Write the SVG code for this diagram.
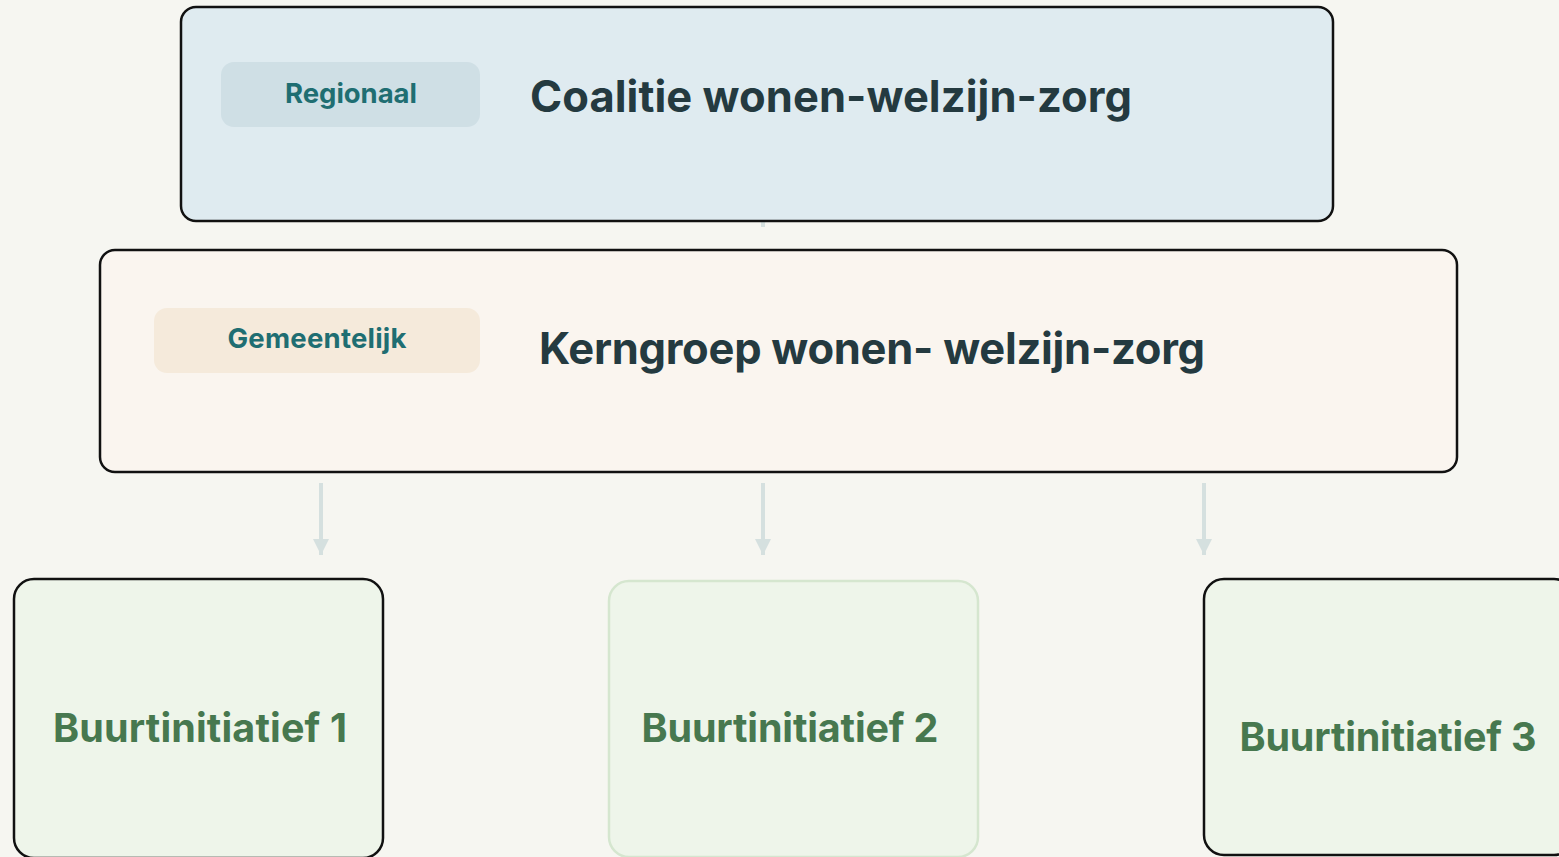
<svg xmlns="http://www.w3.org/2000/svg" width="1559" height="857" viewBox="0 0 1559 857">
<style>
text{font-family:Inter,"Liberation Sans",sans-serif;font-weight:700}
.box{stroke:#111;stroke-width:2.5}
.pilltxt{font-size:27.5px;fill:#1f6e72;text-anchor:middle}
.title{font-size:43.5px;fill:#243a40}
.bt{font-size:39.5px;fill:#47784f;text-anchor:middle}
.conn{stroke:#d5e0df;stroke-width:4;fill:none}
</style>
<defs>
<marker id="ah" viewBox="0 0 10 10" refX="10" refY="5" markerWidth="4" markerHeight="4" markerUnits="strokeWidth" orient="auto">
<path d="M0,0 L10,5 L0,10 z" fill="#d5e0df"/>
</marker>
</defs>
<rect width="1559" height="857" fill="#f6f6f1"/>
<g id="connectors">
<line class="conn" x1="763" y1="200" x2="763" y2="227" marker-end="url(#ah)"/>
<line class="conn" x1="321" y1="483" x2="321" y2="555" marker-end="url(#ah)"/>
<line class="conn" x1="763" y1="483" x2="763" y2="555" marker-end="url(#ah)"/>
<line class="conn" x1="1204" y1="483" x2="1204" y2="555" marker-end="url(#ah)"/>
</g>
<g id="regionaal">
<rect class="box" x="181" y="7" width="1152" height="214" rx="15" fill="#dfebf0"/>
<rect x="221" y="62" width="259" height="65" rx="13" fill="#cfdfe5"/>
<text class="pilltxt" x="351" y="103" textLength="132" lengthAdjust="spacing">Regionaal</text>
<text class="title" x="530" y="112" textLength="602" lengthAdjust="spacing">Coalitie wonen-welzijn-zorg</text>
</g>
<g id="gemeentelijk">
<rect class="box" x="100" y="250" width="1357" height="222" rx="15" fill="#faf5ef"/>
<rect x="154" y="308" width="326" height="65" rx="13" fill="#f5eadb"/>
<text class="pilltxt" x="317" y="348" textLength="179" lengthAdjust="spacing">Gemeentelijk</text>
<text class="title" x="539" y="364" textLength="666" lengthAdjust="spacing">Kerngroep wonen- welzijn-zorg</text>
</g>
<g id="buurt1">
<rect class="box" x="14" y="579" width="369" height="279" rx="20" fill="#eef5ea"/>
<text class="bt" x="200" y="742" textLength="294" lengthAdjust="spacing">Buurtinitiatief 1</text>
</g>
<g id="buurt2">
<rect x="609" y="581" width="369" height="276" rx="20" fill="#eef5ea" stroke="#d5e6cf" stroke-width="2.5"/>
<text class="bt" x="790" y="742" textLength="297" lengthAdjust="spacing">Buurtinitiatief 2</text>
</g>
<g id="buurt3">
<rect class="box" x="1204" y="579" width="370" height="276" rx="20" fill="#eef5ea"/>
<text class="bt" x="1388" y="751" textLength="297" lengthAdjust="spacing">Buurtinitiatief 3</text>
</g>
</svg>
